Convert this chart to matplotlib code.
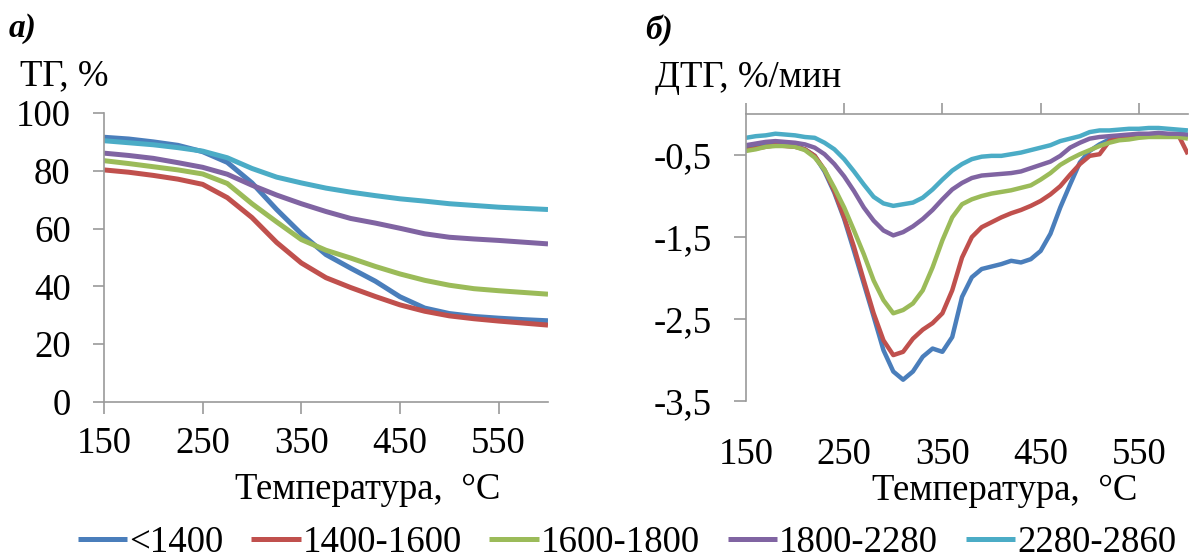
import matplotlib
matplotlib.use("Agg")
import matplotlib.pyplot as plt
from matplotlib.ticker import FixedLocator, FuncFormatter

plt.rcParams['font.family'] = ['Liberation Serif', 'DejaVu Serif']

# ---- data ----
labels = ['<1400', '1400-1600', '1600-1800', '1800-2280', '2280-2860']
colors = ['#4A7EBB', '#C0504D', '#9BBB59', '#8064A2', '#4BACC6']

# TG curves, %
tg_temp = [150, 175, 200, 225, 250, 275, 300, 325, 350, 375,
           400, 425, 450, 475, 500, 525, 550, 575, 600]
tg_lt1400 = [91.6, 91.0, 90.0, 88.8, 86.6, 82.9, 75.8, 66.6, 58.2, 51.0,
             46.3, 41.8, 36.4, 32.5, 30.6, 29.6, 29.0, 28.5, 28.1]
tg_1400_1600 = [80.3, 79.5, 78.4, 77.1, 75.3, 70.7, 63.8, 55.2, 48.1, 43.0,
                39.6, 36.5, 33.6, 31.4, 29.8, 28.8, 28.0, 27.3, 26.6]
tg_1600_1800 = [83.5, 82.5, 81.4, 80.3, 78.9, 75.6, 68.6, 62.3, 56.2, 52.5,
                49.8, 46.9, 44.3, 42.1, 40.4, 39.2, 38.5, 37.9, 37.3]
tg_1800_2280 = [86.1, 85.3, 84.3, 82.8, 81.2, 78.8, 75.0, 71.6, 68.6, 65.9,
                63.5, 61.9, 60.1, 58.2, 57.0, 56.4, 55.9, 55.3, 54.7]
tg_2280_2860 = [90.4, 89.7, 89.0, 88.0, 86.8, 84.5, 80.8, 77.8, 75.8, 74.0,
                72.6, 71.4, 70.3, 69.5, 68.6, 68.0, 67.4, 67.0, 66.6]

# DTG curves, %/min
dtg_temp = [150, 160, 170, 180, 190, 200, 210, 220, 230, 240,
            250, 260, 270, 280, 290, 300, 310, 320, 330, 340,
            350, 360, 370, 380, 390, 400, 410, 420, 430, 440,
            450, 460, 470, 480, 490, 500, 510, 520, 530, 540,
            550, 560, 570, 580, 590, 600]
dtg_lt1400 = [-0.41, -0.39, -0.37, -0.36, -0.37, -0.39, -0.43, -0.51, -0.70, -0.96,
              -1.28, -1.67, -2.07, -2.47, -2.88, -3.14, -3.24, -3.14, -2.96, -2.86,
              -2.90, -2.72, -2.23, -1.99, -1.89, -1.86, -1.83, -1.79, -1.81, -1.77,
              -1.67, -1.46, -1.14, -0.86, -0.59, -0.45, -0.37, -0.31, -0.29, -0.28,
              -0.27, -0.26, -0.26, -0.26, -0.26, -0.27]
dtg_1400_1600 = [-0.44, -0.42, -0.40, -0.38, -0.39, -0.40, -0.43, -0.51, -0.68, -0.94,
                 -1.26, -1.62, -2.03, -2.43, -2.76, -2.94, -2.90, -2.74, -2.63, -2.55,
                 -2.43, -2.15, -1.75, -1.50, -1.38, -1.32, -1.26, -1.21, -1.17, -1.12,
                 -1.06, -0.98, -0.88, -0.74, -0.61, -0.51, -0.49, -0.33, -0.29, -0.28,
                 -0.27, -0.26, -0.25, -0.25, -0.25, -0.49]
dtg_1600_1800 = [-0.45, -0.43, -0.40, -0.39, -0.39, -0.40, -0.44, -0.53, -0.68, -0.90,
                 -1.14, -1.42, -1.71, -2.03, -2.27, -2.43, -2.39, -2.31, -2.15, -1.87,
                 -1.54, -1.26, -1.10, -1.04, -1.00, -0.97, -0.95, -0.93, -0.90, -0.87,
                 -0.80, -0.72, -0.62, -0.55, -0.49, -0.44, -0.39, -0.35, -0.32, -0.31,
                 -0.29, -0.28, -0.28, -0.28, -0.28, -0.30]
dtg_1800_2280 = [-0.38, -0.36, -0.34, -0.33, -0.34, -0.35, -0.37, -0.41, -0.49, -0.61,
                 -0.76, -0.94, -1.14, -1.30, -1.42, -1.48, -1.44, -1.37, -1.28, -1.17,
                 -1.04, -0.92, -0.84, -0.78, -0.75, -0.74, -0.73, -0.72, -0.70, -0.66,
                 -0.62, -0.58, -0.51, -0.41, -0.35, -0.30, -0.28, -0.27, -0.26, -0.25,
                 -0.24, -0.24, -0.23, -0.24, -0.24, -0.25]
dtg_2280_2860 = [-0.29, -0.27, -0.26, -0.24, -0.25, -0.26, -0.28, -0.29, -0.35, -0.43,
                 -0.55, -0.70, -0.86, -1.01, -1.09, -1.12, -1.10, -1.08, -1.02, -0.92,
                 -0.80, -0.69, -0.61, -0.55, -0.52, -0.51, -0.51, -0.49, -0.47, -0.44,
                 -0.41, -0.38, -0.33, -0.30, -0.27, -0.22, -0.20, -0.20, -0.19, -0.18,
                 -0.18, -0.17, -0.17, -0.18, -0.19, -0.20]

tg_series = [tg_lt1400, tg_1400_1600, tg_1600_1800, tg_1800_2280, tg_2280_2860]
dtg_series = [dtg_lt1400, dtg_1400_1600, dtg_1600_1800, dtg_1800_2280, dtg_2280_2860]

W, H = 1202, 559
fig = plt.figure(figsize=(W / 100, H / 100), dpi=100)

def px(x, y):
    return x / W, 1 - y / H

axis_col = '#9A9A9A'
fs = 26.5

# ---- left panel: TG ----
ax1 = fig.add_axes([0.0865, 0.2809, 0.3694, 0.517])
for s, c, lab in zip(tg_series, colors, labels):
    ax1.plot(tg_temp, s, color=c, lw=3.6, label=lab, solid_capstyle='butt')
ax1.set_xlim(150, 600)
ax1.set_ylim(0, 100)
ax1.xaxis.set_major_locator(FixedLocator([150, 250, 350, 450, 550]))
ax1.yaxis.set_major_locator(FixedLocator([0, 20, 40, 60, 80, 100]))
for sp in ['top', 'right']:
    ax1.spines[sp].set_visible(False)
for sp in ['left', 'bottom']:
    ax1.spines[sp].set_color(axis_col)
    ax1.spines[sp].set_linewidth(1.2)
ax1.tick_params(axis='y', length=8, width=1.2, color=axis_col, pad=16, labelsize=fs)
ax1.tick_params(axis='x', length=8.5, width=1.2, color=axis_col, pad=9, labelsize=fs)

# ---- right panel: DTG ----
ax2 = fig.add_axes([0.6206, 0.2826, 0.3677, 0.5134])
for s, c in zip(dtg_series, colors):
    ax2.plot(dtg_temp, s, color=c, lw=3.2, solid_capstyle='butt')
ax2.set_xlim(150, 600)
ax2.set_ylim(-3.5, 0)
ax2.xaxis.set_major_locator(FixedLocator([150, 250, 350, 450, 550]))
ax2.yaxis.set_major_locator(FixedLocator([-3.5, -2.5, -1.5, -0.5]))
ax2.yaxis.set_major_formatter(FuncFormatter(lambda v, p: f"{v:.1f}".replace('.', ',')))
for sp in ['bottom', 'right']:
    ax2.spines[sp].set_visible(False)
for sp in ['left', 'top']:
    ax2.spines[sp].set_color(axis_col)
    ax2.spines[sp].set_linewidth(1.2)
ax2.tick_params(axis='y', length=8.5, width=1.2, color=axis_col, pad=16, labelsize=fs)
ax2.tick_params(axis='x', length=8, width=1.2, color=axis_col, pad=18,
                bottom=False, top=True, labelbottom=True, labeltop=False, labelsize=fs)

# ---- texts ----
fig.text(*px(9, 29), 'а)', fontsize=24, fontweight='bold', fontstyle='italic', va='center')
fig.text(*px(645, 30), 'б)', fontsize=24, fontweight='bold', fontstyle='italic', va='center')
fig.text(*px(20, 76), 'ТГ, %', fontsize=fs, va='center')
fig.text(*px(655, 78), 'ДТГ, %/мин', fontsize=fs, va='center')
fig.text(*px(368, 490), 'Температура,  °C', fontsize=fs, ha='center', va='center')
fig.text(*px(1005, 491), 'Температура,  °C', fontsize=fs, ha='center', va='center')

# ---- legend ----
fig.legend(loc='center', bbox_to_anchor=px(627, 543), ncol=5, frameon=False,
           fontsize=fs, handlelength=1.35, handletextpad=0.05, columnspacing=0.75,
           borderpad=0, borderaxespad=0)

fig.savefig('out.png', dpi=100)
